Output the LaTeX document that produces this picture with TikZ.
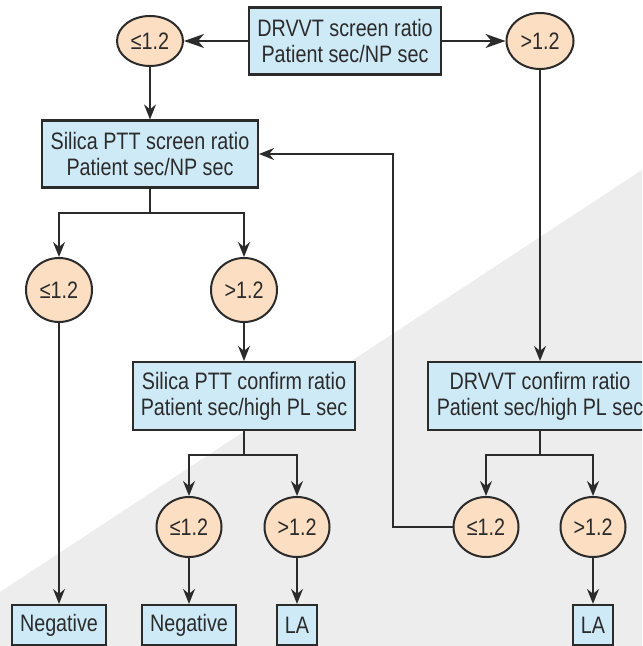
\documentclass[tikz,border=0pt]{standalone}
\usepackage{fontspec}
\setmainfont{Liberation Sans}[FakeStretch=0.83]
\usetikzlibrary{arrows.meta,shapes.geometric}

\definecolor{boxblue}{HTML}{CFEAF7}
\definecolor{ratiopeach}{HTML}{FCDEC2}
\definecolor{backgrey}{HTML}{EDEDED}
\definecolor{inkgrey}{HTML}{2B2B2B}

\newcommand*\pixel{0.5pt}
\tikzset{test/.style 2 args={
    draw=inkgrey,
    line width=1.1pt,
    rectangle,
    fill=boxblue,
    text=inkgrey,
    inner sep=0pt,
    minimum width=#1*\pixel,
    minimum height=#2*\pixel,
    align=center,
    font=\fontsize{11.9}{13}\selectfont
}}
\tikzset{ratio/.style 2 args={
    draw=inkgrey,
    line width=1pt,
    ellipse,
    fill=ratiopeach,
    text=inkgrey,
    inner sep=0pt,
    minimum width=#1*\pixel,
    minimum height=#2*\pixel,
    font=\fontsize{11.9}{13}\selectfont
}}
\tikzset{flow/.style={draw=inkgrey, line width=0.85pt,
    -{Stealth[length=7.5pt,width=6pt,inset=2.5pt]}}}
\tikzset{bigflow/.style={flow,
    -{Stealth[length=10pt,width=7pt,inset=3pt]}}}
\tikzset{branch/.style={draw=inkgrey, line width=0.85pt}}

\begin{document}
\begin{tikzpicture}[x=\pixel,y=-\pixel]

    % Background, with its grey corner.
    \clip (0,0) rectangle (642,646);
    \fill[white] (0,0) rectangle (642,646);
    \fill[backgrey] (0,592) -- (642,170) -- (642,646) -- (0,646) -- cycle;

    % Top row.
    \node[test={192}{67}] (drvvtscreen) at (345,41) {DRVVT screen ratio\\Patient sec/NP sec};
    \node[ratio={66}{50}] (screenlow) at (150,41) {≤1.2};
    \node[ratio={67}{56}] (screenhigh) at (540,41) {>1.2};
    \draw[bigflow] (drvvtscreen) -- (screenlow);
    \draw[bigflow] (drvvtscreen) -- (screenhigh);

    % Silica PTT screen.
    \node[test={216}{67}] (silicascreen) at (150,154) {Silica PTT screen ratio\\Patient sec/NP sec};
    \node[ratio={66}{64}] (silicalow) at (59,290) {≤1.2};
    \node[ratio={66}{64}] (silicahigh) at (244,290) {>1.2};
    \coordinate (silicasplit) at (150,213);
    \draw[flow] (screenlow) -- (silicascreen);
    \draw[branch] (silicascreen) -- (silicasplit);
    \draw[flow] (silicasplit) -| (silicalow);
    \draw[flow] (silicasplit) -| (silicahigh);

    % Silica PTT confirm.
    \node[test={222}{68}] (silicaconfirm) at (244,396) {Silica PTT confirm ratio\\Patient sec/high PL sec};
    \node[ratio={65}{60}] (confirmlow) at (189,527) {≤1.2};
    \node[ratio={65}{60}] (confirmhigh) at (297,527) {>1.2};
    \coordinate (confirmsplit) at (244,455);
    \draw[flow] (silicahigh) -- (silicaconfirm);
    \draw[branch] (silicaconfirm) -- (confirmsplit);
    \draw[flow] (confirmsplit) -| (confirmlow);
    \draw[flow] (confirmsplit) -| (confirmhigh);

    % DRVVT confirm.
    \node[test={224}{68}] (drvvtconfirm) at (540,396) {DRVVT confirm ratio\\Patient sec/high PL sec};
    \node[ratio={65}{60}] (drvvtlow) at (486,527) {≤1.2};
    \node[ratio={65}{60}] (drvvthigh) at (593,527) {>1.2};
    \coordinate (drvvtsplit) at (540,455);
    \coordinate (loopcorner) at (393,527);
    \draw[flow] (screenhigh) -- (drvvtconfirm);
    \draw[branch] (drvvtconfirm) -- (drvvtsplit);
    \draw[flow] (drvvtsplit) -| (drvvtlow);
    \draw[flow] (drvvtsplit) -| (drvvthigh);
    \draw[flow] (drvvtlow) -- (loopcorner) |- (silicascreen);

    % Results.
    \node[test={94}{40}] (negone) at (59,625) {Negative};
    \node[test={94}{40}] (negtwo) at (189,625) {Negative};
    \node[test={40}{40}] (laone) at (297,625) {LA};
    \node[test={40}{40}] (latwo) at (593,625) {LA};
    \draw[flow] (silicalow) -- (negone);
    \draw[flow] (confirmlow) -- (negtwo);
    \draw[flow] (confirmhigh) -- (laone);
    \draw[flow] (drvvthigh) -- (latwo);

\end{tikzpicture}
\end{document}
